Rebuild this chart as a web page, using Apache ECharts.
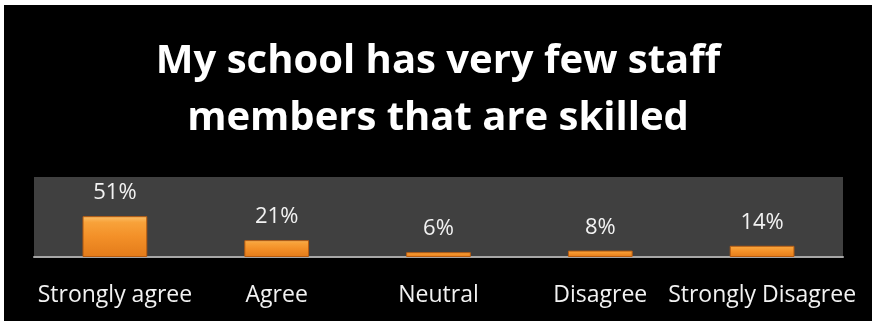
<!DOCTYPE html>
<html>
<head>
<meta charset="utf-8">
<script src="https://cdn.jsdelivr.net/npm/echarts@6/dist/echarts.min.js"></script>
<style>
html,body{margin:0;padding:0;background:#ffffff;width:872px;height:321px;overflow:hidden;}
#chart{position:absolute;left:4px;top:5px;width:868px;height:316px;background:#000;}
</style>
</head>
<body>
<div id="chart"></div>
<script>
const titleText = 'My school has very few staff\nmembers that are skilled';
const categories = ['Strongly agree', 'Agree', 'Neutral', 'Disagree', 'Strongly Disagree'];
const values = [51, 21, 6, 8, 14];

const chart = echarts.init(document.getElementById('chart'));
chart.setOption({
  backgroundColor: '#000000',
  animation: false,
  title: {
    text: titleText,
    left: 'center',
    top: 23,
    textStyle: {
      color: '#ffffff',
      fontFamily: 'Open Sans',
      fontWeight: 'bold',
      fontSize: 40,
      lineHeight: 57
    }
  },
  grid: {
    left: 30, right: 29, top: 172, bottom: 64,
    show: true, backgroundColor: '#404040', borderWidth: 0
  },
  xAxis: {
    type: 'category',
    data: categories,
    axisLine: { lineStyle: { color: '#a6a6a6', width: 2 } },
    axisTick: { show: false },
    axisLabel: { color: '#f2f2f2', fontFamily: 'Open Sans', fontSize: 23, margin: 27, interval: 0 }
  },
  yAxis: {
    type: 'value', min: 0, max: 100, show: false
  },
  series: [{
    type: 'bar',
    data: values,
    barWidth: '40%',
    itemStyle: {
      color: new echarts.graphic.LinearGradient(0, 0, 0, 1, [
        { offset: 0, color: '#fbc068' },
        { offset: 0.15, color: '#f8a23a' },
        { offset: 0.5, color: '#f39028' },
        { offset: 1, color: '#e37b1a' }
      ]),
      borderColor: '#b85c10',
      borderWidth: 1
    },
    label: {
      show: true,
      position: 'top',
      distance: 12,
      color: '#f2f2f2',
      fontFamily: 'Open Sans',
      fontSize: 22,
      formatter: '{c}%'
    }
  }]
});
</script>
</body>
</html>
